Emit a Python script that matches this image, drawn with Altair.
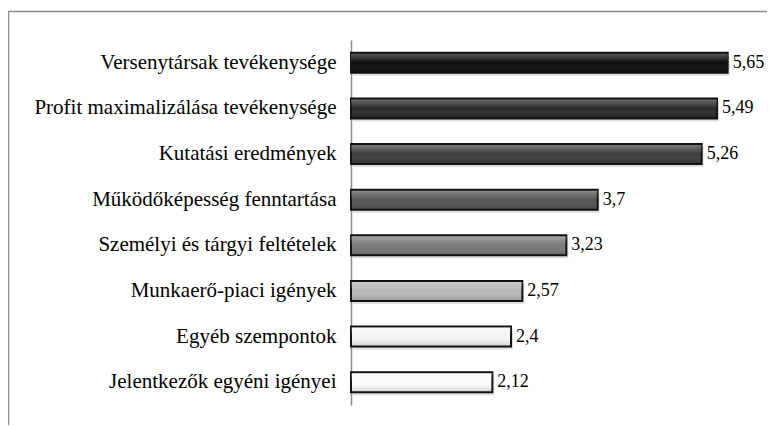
import altair as alt
import pandas as pd

categories = [
    "Versenytársak tevékenysége",
    "Profit maximalizálása tevékenysége",
    "Kutatási eredmények",
    "Működőképesség fenntartása",
    "Személyi és tárgyi feltételek",
    "Munkaerő-piaci igények",
    "Egyéb szempontok",
    "Jelentkezők egyéni igényei",
]
values = [5.65, 5.49, 5.26, 3.7, 3.23, 2.57, 2.4, 2.12]
labels = [f"{v:g}".replace(".", ",") for v in values]

# style: fill shade per bar (dark to light)
bar_fills = ["#0d0d0d", "#2b2b2b", "#3d3d3d", "#555555", "#7a7a7a", "#b8b8b8", "#f4f4f4", "#fafafa"]

FONT = "'Times New Roman', 'Liberation Serif', 'DejaVu Serif', serif"

df = pd.DataFrame({"cat": categories, "val": values, "label": labels})

y_enc = alt.Y(
    "cat:N",
    sort=categories,
    scale=alt.Scale(paddingInner=0, paddingOuter=0),
    axis=alt.Axis(
        title=None,
        domain=True,
        domainColor="#8c8c8c",
        domainWidth=1.5,
        ticks=False,
        grid=False,
        labelFont=FONT,
        labelFontSize=21,
        labelColor="#000000",
        labelPadding=15,
        labelLimit=400,
    ),
)
x_enc = alt.X("val:Q", scale=alt.Scale(domain=[0, 6], nice=False, zero=True), axis=None)

base = alt.Chart(df)

shadow = base.mark_bar(size=20, color="#000000", opacity=0.13, xOffset=2, yOffset=3).encode(
    x=x_enc, y=y_enc
)

bars = base.mark_bar(size=20, stroke="#111111", strokeWidth=2).encode(
    x=x_enc,
    y=y_enc,
    color=alt.Color(
        "cat:N",
        scale=alt.Scale(domain=categories, range=bar_fills),
        legend=None,
    ),
)

gloss = base.mark_bar(
    size=18,
    color=alt.Gradient(
        gradient="linear",
        x1=0, x2=0, y1=0, y2=1,
        stops=[
            alt.GradientStop(offset=0.0, color="rgba(255,255,255,0.30)"),
            alt.GradientStop(offset=0.3, color="rgba(255,255,255,0.12)"),
            alt.GradientStop(offset=0.5, color="rgba(255,255,255,0.0)"),
            alt.GradientStop(offset=1.0, color="rgba(0,0,0,0.15)"),
        ],
    ),
).encode(x=x_enc, y=y_enc)

text = base.mark_text(
    align="left", baseline="middle", dx=5, font=FONT, fontSize=18, color="#000000"
).encode(x=x_enc, y=y_enc, text="label:N")

frame_df = pd.DataFrame({"k": [0]})
frame_top = alt.Chart(frame_df).mark_rule(color="#8c8c8c", strokeWidth=1.5).encode(
    x=alt.value(-343), x2=alt.value(430), y=alt.value(-28.5)
)
frame_left = alt.Chart(frame_df).mark_rule(color="#8c8c8c", strokeWidth=1.5).encode(
    x=alt.value(-342.5), y=alt.value(-28.5), y2=alt.value(400)
)

chart = (
    alt.layer(frame_top, frame_left, shadow, bars, gloss, text)
    .properties(
        width=400,
        height=365,
        autosize=alt.AutoSizeParams(type="none"),
        padding={"left": 343, "top": 32, "right": 16, "bottom": 20},
        background="#ffffff",
    )
    .configure_view(stroke=None)
)

chart.save("out.html", embed_options={"renderer": "svg", "actions": False})
